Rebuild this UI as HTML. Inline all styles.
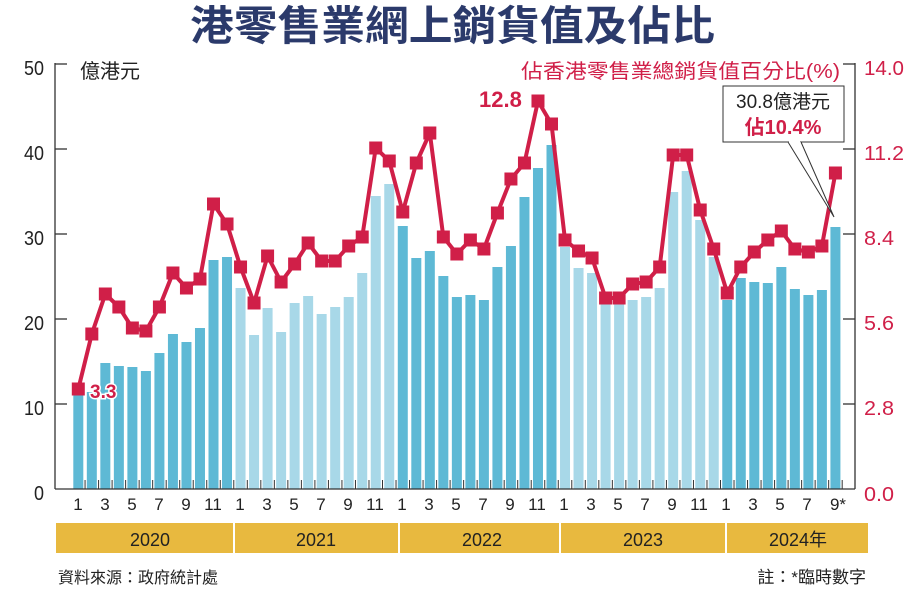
<!DOCTYPE html>
<html><head><meta charset="utf-8"><style>
html,body{margin:0;padding:0;background:#fff;}
svg{display:block;font-family:"Liberation Sans","Noto Sans CJK TC",sans-serif;}
</style></head><body>
<svg id="s" width="907" height="589" viewBox="0 0 907 589" xmlns="http://www.w3.org/2000/svg">
<rect width="907" height="589" fill="#fff"/>
<text x="190" y="40" font-size="41" font-weight="bold" fill="#2b3a6b" font-family="'Noto Sans CJK TC',sans-serif" textLength="525" lengthAdjust="spacingAndGlyphs">港零售業網上銷貨值及佔比</text>
<g id="bars"></g>
<g stroke="#333" stroke-width="1.3" fill="none">
<line x1="55" y1="63" x2="55" y2="489"/>
<line x1="855" y1="63" x2="855" y2="489"/>
<line x1="55" y1="489" x2="855" y2="489"/>
<line x1="55" y1="64" x2="67" y2="64"/><line x1="55" y1="149" x2="67" y2="149"/><line x1="55" y1="234" x2="67" y2="234"/><line x1="55" y1="319" x2="67" y2="319"/><line x1="55" y1="404" x2="67" y2="404"/>
<line x1="843" y1="64" x2="855" y2="64"/><line x1="843" y1="149" x2="855" y2="149"/><line x1="843" y1="234" x2="855" y2="234"/><line x1="843" y1="319" x2="855" y2="319"/><line x1="843" y1="404" x2="855" y2="404"/>
</g>
<g id="xt" stroke="#333" stroke-width="1"></g>
<g font-size="20" fill="#222" text-anchor="end">
<text x="44" y="75" textLength="20" lengthAdjust="spacingAndGlyphs">50</text><text x="44" y="160" textLength="20" lengthAdjust="spacingAndGlyphs">40</text><text x="44" y="245" textLength="20" lengthAdjust="spacingAndGlyphs">30</text><text x="44" y="330" textLength="20" lengthAdjust="spacingAndGlyphs">20</text><text x="44" y="415" textLength="20" lengthAdjust="spacingAndGlyphs">10</text><text x="44" y="500" textLength="10" lengthAdjust="spacingAndGlyphs">0</text>
</g>
<text x="80" y="78" font-size="20" fill="#222">億港元</text>
<g font-size="20" fill="#d01f48">
<text x="864" y="75" textLength="40" lengthAdjust="spacingAndGlyphs">14.0</text><text x="864" y="160" textLength="40" lengthAdjust="spacingAndGlyphs">11.2</text><text x="864" y="245" textLength="30" lengthAdjust="spacingAndGlyphs">8.4</text><text x="864" y="330" textLength="30" lengthAdjust="spacingAndGlyphs">5.6</text><text x="864" y="415" textLength="30" lengthAdjust="spacingAndGlyphs">2.8</text><text x="864" y="501" textLength="30" lengthAdjust="spacingAndGlyphs">0.0</text>
</g>
<text x="521" y="78" font-size="20" fill="#d01f48" textLength="319" lengthAdjust="spacingAndGlyphs">佔香港零售業總銷貨值百分比(%)</text>
<g font-size="17" fill="#222" text-anchor="middle">
<text x="78" y="510">1</text><text x="105" y="510">3</text><text x="132" y="510">5</text><text x="159" y="510">7</text><text x="186" y="510">9</text><text x="213" y="510">11</text>
<text x="240" y="510">1</text><text x="267" y="510">3</text><text x="294" y="510">5</text><text x="321" y="510">7</text><text x="348" y="510">9</text><text x="375" y="510">11</text>
<text x="402" y="510">1</text><text x="429" y="510">3</text><text x="456" y="510">5</text><text x="483" y="510">7</text><text x="510" y="510">9</text><text x="537" y="510">11</text>
<text x="564" y="510">1</text><text x="591" y="510">3</text><text x="618" y="510">5</text><text x="645" y="510">7</text><text x="672" y="510">9</text><text x="699" y="510">11</text>
<text x="726" y="510">1</text><text x="753" y="510">3</text><text x="780" y="510">5</text><text x="807" y="510">7</text><text x="838" y="510">9*</text>
</g>
<rect x="56" y="523" width="812" height="30" fill="#e8b93f"/>
<g stroke="#fff" stroke-width="2"><line x1="234" y1="523" x2="234" y2="553"/><line x1="399" y1="523" x2="399" y2="553"/><line x1="560" y1="523" x2="560" y2="553"/><line x1="726" y1="523" x2="726" y2="553"/></g>
<g font-size="18" fill="#222" text-anchor="middle">
<text x="150" y="546">2020</text><text x="316" y="546">2021</text><text x="482" y="546">2022</text><text x="643" y="546">2023</text><text x="798" y="546">2024年</text>
</g>
<text x="58" y="583" font-size="16" fill="#222">資料來源：政府統計處</text>
<text x="866" y="583" font-size="17" fill="#222" text-anchor="end">註：*臨時數字</text>
<g id="line"></g>
<text x="90" y="398" font-size="19" font-weight="bold" fill="#d01f48" stroke="#fff" stroke-width="3" paint-order="stroke">3.3</text>
<text x="479" y="107" font-size="22" font-weight="bold" fill="#d01f48">12.8</text>
<rect x="723" y="86" width="121" height="56" fill="#fff" stroke="#333" stroke-width="1"/>
<polyline points="788,142 834,217 801,142" fill="#fff" stroke="#333" stroke-width="1"/>
<line x1="789" y1="142" x2="800" y2="142" stroke="#fff" stroke-width="2"/>
<text x="783" y="108" font-size="19" fill="#222" text-anchor="middle">30.8億港元</text>
<text x="783" y="134" font-size="20" font-weight="bold" fill="#d01f48" text-anchor="middle">佔10.4%</text>
</svg>
<script>
var bt=[393,392,363,366,367,371,353,334,342,328,260,257,288,335,308,332,303,296,314,307,297,273,196,184,226,258,251,276,297,295,300,267,246,197,168,145,247,268,273,302,302,300,297,288,192,171,220,257,300,278,282,283,267,289,295,290,227];
var ly=[389,334,294,307,328,331,307,273,288,279,204,224,267,303,256,282,264,243,261,261,246,237,148,161,212,163,133,237,254,240,249,213,179,163,101,124,240,251,258,298,298,284,282,267,155,155,210,249,293,267,252,240,231,249,252,246,173];
var NS="http://www.w3.org/2000/svg",b=document.getElementById('bars'),l=document.getElementById('line'),xt=document.getElementById('xt');
function X(i){return 78.3+i*13.52;}
var pts=[];
for(var i=0;i<57;i++){var r=document.createElementNS(NS,'rect');var light=(i>=12&&i<24)||(i>=36&&i<48);
r.setAttribute('x',X(i)-5);r.setAttribute('y',bt[i]);r.setAttribute('width',10);r.setAttribute('height',489-bt[i]);r.setAttribute('fill',light?'#a8d8e8':'#5eb9d5');b.appendChild(r);
pts.push(X(i)+','+ly[i]);
var t=document.createElementNS(NS,'line');t.setAttribute('x1',X(i)+6.76);t.setAttribute('x2',X(i)+6.76);t.setAttribute('y1',480);t.setAttribute('y2',489);xt.appendChild(t);}
var p=document.createElementNS(NS,'polyline');p.setAttribute('points',pts.join(' '));p.setAttribute('fill','none');p.setAttribute('stroke','#d01f48');p.setAttribute('stroke-width','4');p.setAttribute('stroke-linejoin','round');l.appendChild(p);
for(var i=0;i<57;i++){var m=document.createElementNS(NS,'rect');m.setAttribute('x',X(i)-6.5);m.setAttribute('y',ly[i]-6.5);m.setAttribute('width',13);m.setAttribute('height',13);m.setAttribute('fill','#d01f48');l.appendChild(m);}
</script>
</body></html>
